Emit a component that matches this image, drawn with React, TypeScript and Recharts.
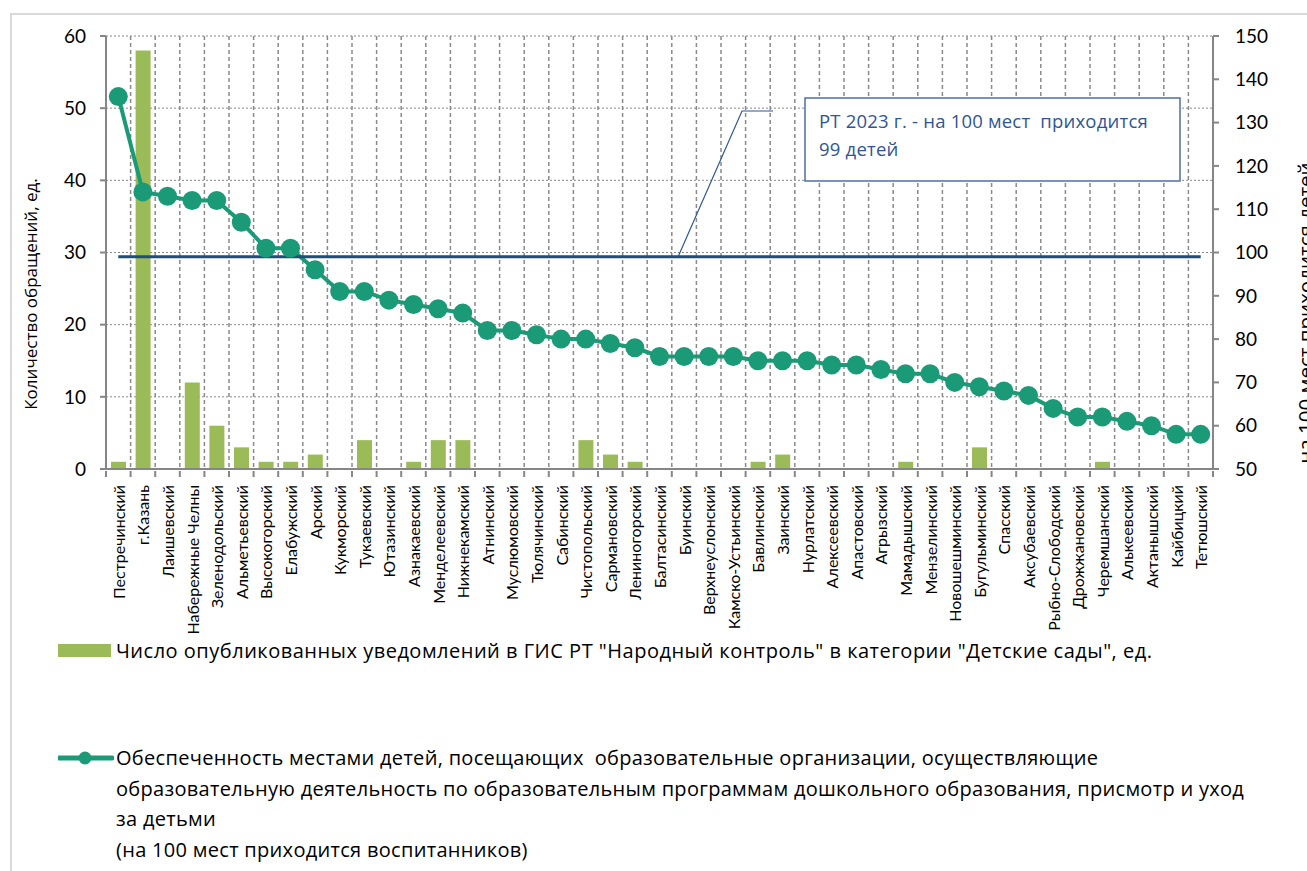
import { ComposedChart, Bar, Line, XAxis, YAxis, CartesianGrid } from "recharts";

const categories = [
  "Пестречинский", "г.Казань", "Лаишевский", "Набережные Челны", "Зеленодольский",
  "Альметьевский", "Высокогорский", "Елабужский", "Арский", "Кукморский",
  "Тукаевский", "Ютазинский", "Азнакаевский", "Менделеевский", "Нижнекамский",
  "Атнинский", "Муслюмовский", "Тюлячинский", "Сабинский", "Чистопольский",
  "Сармановский", "Лениногорский", "Балтасинский", "Буинский", "Верхнеуслонский",
  "Камско-Устьинский", "Бавлинский", "Заинский", "Нурлатский", "Алексеевский",
  "Апастовский", "Агрызский", "Мамадышский", "Мензелинский", "Новошешминский",
  "Бугульминский", "Спасский", "Аксубаевский", "Рыбно-Слободский", "Дрожжановский",
  "Черемшанский", "Алькеевский", "Актанышский", "Кайбицкий", "Тетюшский",
];

// Число опубликованных уведомлений, ед.
const notices = [
  1, 58, 0, 12, 6, 3, 1, 1, 2, 0,
  4, 0, 1, 4, 4, 0, 0, 0, 0, 4,
  2, 1, 0, 0, 0, 0, 1, 2, 0, 0,
  0, 0, 1, 0, 0, 3, 0, 0, 0, 0,
  1, 0, 0, 0, 0,
];

// на 100 мест приходится воспитанников
const provision = [
  136, 114, 113, 112, 112, 107, 101, 101, 96, 91,
  91, 89, 88, 87, 86, 82, 82, 81, 80, 80,
  79, 78, 76, 76, 76, 76, 75, 75, 75, 74,
  74, 73, 72, 72, 70, 69, 68, 67, 64, 62,
  62, 61, 60, 58, 58,
];

const regionAvg = 99;

const leftTicks = [0, 10, 20, 30, 40, 50, 60];
const rightTicks = [50, 60, 70, 80, 90, 100, 110, 120, 130, 140, 150];

const data = categories.map((name, i) => ({
  name,
  notices: notices[i],
  provision: provision[i],
  avg: regionAvg,
}));

const W = 1307;
const H = 640;
const MARGIN = { top: 36, right: 34, bottom: 21, left: 46 };
const AXIS_W = 60;
const PLOT_W = W - MARGIN.left - MARGIN.right - AXIS_W * 2;
const BAND = PLOT_W / categories.length;

const FONT = "Lato, 'Noto Sans', sans-serif";
const TEXT_FONT = "'Open Sans', 'Noto Sans', sans-serif";
const GRID = "#8a8a8a";
const AXIS = "#868686";
const GREEN = "#9BBB59";
const TEAL = "#1A9A77";
const NAVY = "#1F4E79";

function CategoryTick(props: any) {
  const { x, y, payload, index } = props;
  const half = BAND / 2;
  return (
    <g>
      <line x1={x - half} x2={x - half} y1={y} y2={y + 6} stroke={AXIS} strokeWidth={2} />
      {index === categories.length - 1 && (
        <line x1={x + half} x2={x + half} y1={y} y2={y + 6} stroke={AXIS} strokeWidth={2} />
      )}
      <text
        x={x}
        y={y + 14}
        transform={`rotate(-90 ${x} ${y + 14})`}
        textAnchor="end"
        dominantBaseline="central"
        fontSize={16}
        fontFamily={FONT}
        fill="#000"
      >
        {payload.value}
      </text>
    </g>
  );
}

export default function App() {
  return (
    <div style={{ position: "relative", width: 1307, height: 871, overflow: "hidden", background: "#fff" }}>
      <style>{"body{margin:0;overflow:hidden}"}</style>
      <div
        style={{
          position: "absolute",
          left: 10,
          top: 13,
          width: 1400,
          height: 1000,
          border: "2px solid #d9d9d9",
        }}
      />
      <div style={{ position: "absolute", left: 0, top: 0 }}>
        <ComposedChart width={W} height={H} data={data} margin={MARGIN} barSize={15}>
          <CartesianGrid
            yAxisId="left"
            vertical={false}
            stroke={GRID}
            strokeDasharray="2 2"
          />
          <CartesianGrid
            yAxisId="left"
            horizontal={false}
            stroke={GRID}
            strokeWidth={1.5}
            strokeDasharray="4 3"
            verticalCoordinatesGenerator={({ offset }: any) =>
              Array.from({ length: categories.length }, (_, i) => offset.left + (i + 1) * (offset.width / categories.length))
            }
          />
          <XAxis
            dataKey="name"
            interval={0}
            height={150}
            tickSize={0}
            tickLine={false}
            tick={<CategoryTick />}
            axisLine={{ stroke: AXIS, strokeWidth: 2 }}
          />
          <YAxis
            yAxisId="left"
            domain={[0, 60]}
            ticks={leftTicks}
            width={AXIS_W}
            tickMargin={14}
            tickSize={6}
            tick={{ fontSize: 19, fontFamily: FONT, fill: "#000" }}
            tickLine={{ stroke: AXIS, strokeWidth: 2 }}
            axisLine={{ stroke: AXIS, strokeWidth: 2 }}
          />
          <YAxis
            yAxisId="right"
            orientation="right"
            domain={[50, 150]}
            ticks={rightTicks}
            width={AXIS_W}
            tickMargin={16}
            tickSize={6}
            tick={{ fontSize: 19, fontFamily: FONT, fill: "#000", textAnchor: "start" }}
            tickLine={{ stroke: AXIS, strokeWidth: 2 }}
            axisLine={{ stroke: AXIS, strokeWidth: 2 }}
          />
          <Bar yAxisId="left" dataKey="notices" fill={GREEN} isAnimationActive={false} />
          <Line
            yAxisId="right"
            dataKey="provision"
            stroke={TEAL}
            strokeWidth={4}
            dot={{ r: 9.5, fill: TEAL, stroke: "none" }}
            isAnimationActive={false}
          />
          <Line
            yAxisId="right"
            dataKey="avg"
            stroke={NAVY}
            strokeWidth={3}
            dot={false}
            activeDot={false}
            isAnimationActive={false}
          />
        </ComposedChart>
      </div>

      {/* axis titles, annotation */}
      <svg width={1307} height={640} style={{ position: "absolute", left: 0, top: 0, pointerEvents: "none" }}>
        <text
          x={30}
          y={294}
          transform="rotate(-90 30 294)"
          textAnchor="middle"
          dominantBaseline="central"
          fontSize={17}
          fontFamily={TEXT_FONT}
        >
          Количество обращений, ед.
        </text>
        <text
          x={1313}
          y={313}
          transform="rotate(-90 1313 313)"
          textAnchor="middle"
          fontSize={20.5}
          fontFamily={TEXT_FONT}
        >
          на 100 мест приходится детей
        </text>
        <polyline points="678,257 742,111 773,111" fill="none" stroke="#2F5597" strokeWidth={1.2} />
        <rect x={805} y={98} width={375} height={83} fill="#fff" stroke="#4F6EA8" strokeWidth={1.5} />
        <text x={819} y={128} fontSize={18.5} letterSpacing={0.2} fontFamily={TEXT_FONT} fill="#2F5597" style={{ whiteSpace: "pre" }}>
          {"РТ 2023 г. - на 100 мест  приходится"}
        </text>
        <text x={819} y={156} fontSize={18.5} letterSpacing={0.2} fontFamily={TEXT_FONT} fill="#2F5597">
          99 детей
        </text>
      </svg>

      {/* legend */}
      <div style={{ position: "absolute", left: 58, top: 637, fontFamily: TEXT_FONT, fontSize: 20, letterSpacing: 0.5, color: "#000" }}>
        <div style={{ display: "flex", alignItems: "center", whiteSpace: "pre" }}>
          <span style={{ display: "inline-block", width: 53, height: 13, background: GREEN, marginRight: 5 }} />
          {'Число опубликованных уведомлений в ГИС РТ "Народный контроль" в категории "Детские сады", ед.'}
        </div>
      </div>
      <div style={{ position: "absolute", left: 58, top: 743, fontFamily: TEXT_FONT, fontSize: 20, letterSpacing: 0.3, color: "#000", lineHeight: "30.5px" }}>
        <svg width={56} height={30} style={{ position: "absolute", left: 0, top: 0 }}>
          <line x1={1} x2={54} y1={15} y2={15} stroke={TEAL} strokeWidth={5} strokeLinecap="round" />
          <circle cx={27} cy={15} r={6.5} fill={TEAL} />
        </svg>
        <div style={{ marginLeft: 58, whiteSpace: "pre" }}>
          <div>{"Обеспеченность местами детей, посещающих  образовательные организации, осуществляющие"}</div>
          <div>{"образовательную деятельность по образовательным программам дошкольного образования, присмотр и уход"}</div>
          <div>{"за детьми"}</div>
          <div>{"(на 100 мест приходится воспитанников)"}</div>
        </div>
      </div>
    </div>
  );
}
